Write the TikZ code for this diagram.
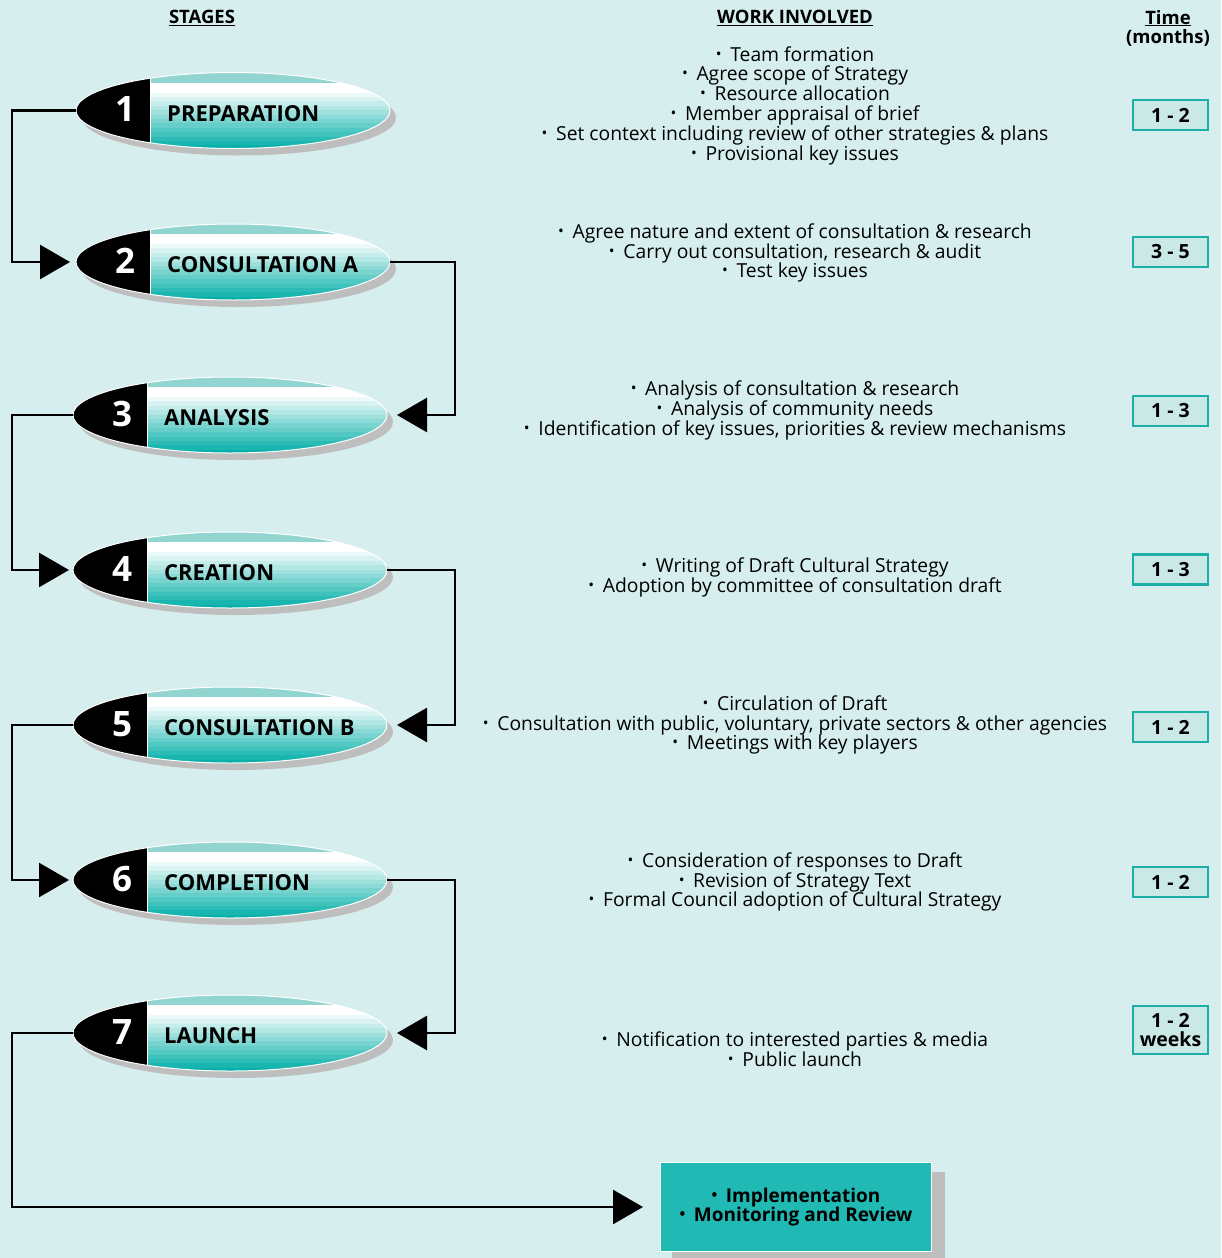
\documentclass[tikz,border=0pt]{standalone}
\usepackage{fontspec}
\usepackage{graphicx}
\setmainfont{Open Sans}
\usetikzlibrary{arrows.meta,shapes.geometric,calc}

\definecolor{bgcol}{HTML}{D6EEEE}
\definecolor{tealdark}{HTML}{06B0A8}
\definecolor{tealtop}{HTML}{92D5D0}
\definecolor{shadowgray}{HTML}{BEBEBE}
\definecolor{boxfill}{HTML}{CAE8E6}
\definecolor{boxline}{HTML}{1CAFA7}
\definecolor{implfill}{HTML}{21B9B4}

% small list bullet
\newcommand{\bul}{\raisebox{0.2ex}{\scalebox{0.8}{•}}\hspace{0.45em}}

% one stage pill: #1 name, #2 x, #3 y, #4 number, #5 title
\newcommand{\stagepill}[5]{%
  \fill[shadowgray] (#2+6,#3+7) ellipse [x radius=157pt, y radius=38pt];
  \begin{scope}
    \clip (#2,#3) ellipse [x radius=157pt, y radius=38pt];
    \fill[tealtop] (#2-160,#3-40) rectangle (#2+160,#3-28);
    \fill[white] (#2-160,#3-28) rectangle (#2+160,#3-18);
    \foreach \i in {0,...,12}{
      \pgfmathsetmacro\q{8+\i*92/12}
      \fill[tealdark!\q!white] (#2-160,#3-18+\i*4.4) rectangle (#2+160,#3-18+\i*4.4+4.5);
    }
    \fill[black] (#2-160,#3-40) rectangle (#2-83,#3+40);
    \draw[white, line width=0.8pt] (#2-83,#3-40) -- (#2-83,#3+40);
  \end{scope}
  \draw[white, line width=1pt] (#2,#3) ellipse [x radius=157pt, y radius=38pt];
  \node[ellipse, minimum width=314pt, minimum height=76pt, inner sep=0pt, outer sep=0pt] (#1) at (#2,#3) {};
  \node[numtext] (#1n) at (#2-108,#3-1) {#4};
  \node[titletext, anchor=west] (#1t) at (#2-66,#3+3) {#5};
}

\tikzset{
  numtext/.style={text=white, inner sep=0pt, font=\bfseries\fontsize{35}{35}\selectfont},
  titletext/.style={text=black, inner sep=0pt, font=\bfseries\fontsize{22}{22}\selectfont},
  headtext/.style={inner sep=0pt, align=center, font=\bfseries\fontsize{18.5}{19}\selectfont},
  worktext/.style={inner sep=0pt, align=center, font=\fontsize{19.3}{19.8}\selectfont},
  timebox/.style={draw=boxline, line width=2.2pt, fill=boxfill, minimum width=75pt,
    minimum height=30pt, inner sep=0pt, align=center,
    font=\bfseries\fontsize{19.5}{19}\selectfont},
  conn/.style={line width=2.6pt, -{Triangle[length=30pt,width=34pt]}},
}

\begin{document}
\begin{tikzpicture}[x=1pt, y=-1pt]
  \fill[bgcol] (0,0) rectangle (1221,1258);
  \useasboundingbox (0,0) rectangle (1221,1258);

  % column headings
  \node[headtext] (hstages) at (202,18) {\underline{STAGES}};
  \node[headtext] (hwork) at (795,18) {\underline{WORK INVOLVED}};
  \node[headtext] (htime) at (1168,28) {\underline{Time}\\(months)};

  % stages
  \stagepill{s1}{233}{110.5}{1}{PREPARATION}
  \stagepill{s2}{233}{262}{2}{CONSULTATION A}
  \stagepill{s3}{230}{415}{3}{ANALYSIS}
  \stagepill{s4}{230}{570}{4}{CREATION}
  \stagepill{s5}{230}{725}{5}{CONSULTATION B}
  \stagepill{s6}{230}{880}{6}{COMPLETION}
  \stagepill{s7}{230}{1033}{7}{LAUNCH}

  % work involved
  \node[worktext] (w1) at (795,105.5) {\bul Team formation\\\bul Agree scope of Strategy\\\bul Resource allocation\\\bul Member appraisal of brief\\\bul Set context including review of other strategies \& plans\\\bul Provisional key issues};
  \node[worktext] (w2) at (795,253) {\bul Agree nature and extent of consultation \& research\\\bul Carry out consultation, research \& audit\\\bul Test key issues};
  \node[worktext] (w3) at (795,410.5) {\bul Analysis of consultation \& research\\\bul Analysis of community needs\\\bul Identification of key issues, priorities \& review mechanisms};
  \node[worktext] (w4) at (795,577.5) {\bul Writing of Draft Cultural Strategy\\\bul Adoption by committee of consultation draft};
  \node[worktext] (w5) at (795,725) {\bul Circulation of Draft\\\bul Consultation with public, voluntary, private sectors \& other agencies\\\bul Meetings with key players};
  \node[worktext] (w6) at (795,882) {\bul Consideration of responses to Draft\\\bul Revision of Strategy Text\\\bul Formal Council adoption of Cultural Strategy};
  \node[worktext] (w7) at (795,1049) {\bul Notification to interested parties \& media\\\bul Public launch};

  % durations
  \node[timebox] (t1) at (1170.5,115) {1 - 2};
  \node[timebox] (t2) at (1170.5,252) {3 - 5};
  \node[timebox] (t3) at (1170.5,411) {1 - 3};
  \node[timebox] (t4) at (1170.5,569.5) {1 - 3};
  \node[timebox] (t5) at (1170.5,727) {1 - 2};
  \node[timebox] (t6) at (1170.5,882) {1 - 2};
  \node[timebox, minimum height=48pt] (t7) at (1170.5,1030) {1 - 2\\weeks};

  % follow-on box
  \fill[shadowgray] (672,1172) rectangle (945,1270);
  \node[draw=white, line width=1pt, fill=implfill, minimum width=271pt, minimum height=89pt,
    inner sep=0pt, align=center, font=\bfseries\fontsize{19}{19.5}\selectfont]
    (impl) at (796,1207) {\bul Implementation\\\bul Monitoring and Review};

  % connectors
  \coordinate (lx) at (12,0);
  \coordinate (rx) at (455,0);
  \draw[conn, shorten >=6pt] (s1.west) -- (s1.west -| lx) |- (s2.west);
  \draw[conn, shorten >=10pt] (s2.east) -- (s2.east -| rx) |- (s3.east);
  \draw[conn, shorten >=4pt] (s3.west) -- (s3.west -| lx) |- (s4.west);
  \draw[conn, shorten >=10pt] (s4.east) -- (s4.east -| rx) |- (s5.east);
  \draw[conn, shorten >=4pt] (s5.west) -- (s5.west -| lx) |- (s6.west);
  \draw[conn, shorten >=10pt] (s6.east) -- (s6.east -| rx) |- (s7.east);
  \draw[conn, shorten >=17pt] (s7.west) -- (s7.west -| lx) |- (impl.west);
\end{tikzpicture}
\end{document}
